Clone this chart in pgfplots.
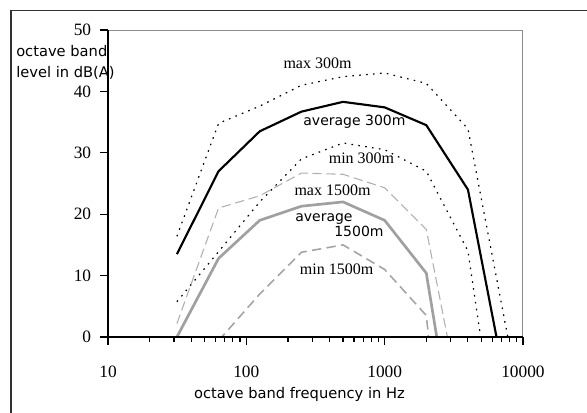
\documentclass[border=0pt]{standalone}
\usepackage{fontspec}
\setmainfont{Liberation Serif}
\newfontfamily\sans{DejaVu Sans}
\usepackage{pgfplots}
\pgfplotsset{compat=1.18}
\definecolor{frame}{RGB}{50,50,50}
\definecolor{border}{RGB}{140,140,140}
\definecolor{avgg}{RGB}{160,160,160}
\definecolor{maxg}{RGB}{175,175,175}
\definecolor{ming}{RGB}{165,165,165}
\begin{document}
\begin{tikzpicture}
\useasboundingbox (-81pt,-56.25pt) rectangle (359.25pt,252.75pt);
\begin{axis}[
  at={(0pt,0pt)}, anchor=south west,
  scale only axis, width=311.25pt, height=230.25pt,
  xmode=log, xmin=10, xmax=10000, ymin=0, ymax=50,
  axis line style={draw=none},
  xtick pos=left, ytick pos=left,
  xtick={10,100,1000,10000}, xticklabels={10,100,1000,10000},
  minor xtick={20,30,40,50,60,70,80,90,200,300,400,500,600,700,800,900,2000,3000,4000,5000,6000,7000,8000,9000},
  ytick={0,10,20,30,40,50}, yticklabels={0,10,20,30,40,50},
  tick align=outside, major tick length=6pt, minor tick length=3.5pt,
  tick style={draw=black, line width=0.8pt},
  ticklabel style={font=\fontsize{13}{15}\selectfont},
  xticklabel style={anchor=north, inner sep=0pt, yshift=-15.75pt},
  yticklabel style={anchor=east, inner sep=0pt, xshift=-6.5pt},
  clip=true,
]
% max 300m
\addplot[black, line width=0.9pt, dash pattern=on 1.2pt off 4pt] coordinates {
(31.5,16.4) (63,34.8) (125,37.6) (250,41) (500,42.4) (1000,43) (2000,41.3) (4000,33.9) (8000,-1.5)};
% min 300m
\addplot[black, line width=0.9pt, dash pattern=on 1.2pt off 4pt] coordinates {
(31.5,5.75) (63,13.9) (125,22) (250,29) (500,31.6) (1000,30.5) (2000,27) (4000,14) (8000,-32)};
% max 1500m
\addplot[maxg, line width=0.8pt, dash pattern=on 7pt off 3.5pt] coordinates {
(31.5,2.2) (63,21) (125,23) (250,26.7) (500,26.5) (1000,24.3) (2000,17.5) (4000,-17)};
% min 1500m
\addplot[ming, line width=1.2pt, dash pattern=on 7pt off 4pt] coordinates {
(63,-0.6) (125,7) (250,13.8) (500,15) (1000,11) (2000,3.5) (4000,-60)};
% average 1500m
\addplot[avgg, line width=2pt] coordinates {
(31.5,0) (63,12.8) (125,19) (250,21.3) (500,22) (1000,19) (2000,10.4) (4000,-31)};
% average 300m
\addplot[black, line width=1.6pt] coordinates {
(31.5,13.5) (63,27) (125,33.5) (250,36.7) (500,38.3) (1000,37.4) (2000,34.5) (4000,24) (8000,-11)};

\node[anchor=base, font=\fontsize{12}{14}\selectfont] at (axis cs:327,43.76) {max 300m};
\node[anchor=base, font=\sans\fontsize{10.5}{12}\selectfont] at (axis cs:605,34.4) {average 300m};
\node[anchor=base, font=\fontsize{12}{14}\selectfont] at (axis cs:680,28.3) {min 300m};
\node[anchor=base, font=\fontsize{12}{14}\selectfont] at (axis cs:420,23.0) {max 1500m};
\node[anchor=base, font=\sans\fontsize{10.5}{12}\selectfont] at (axis cs:364,18.8) {average};
\node[anchor=base, font=\sans\fontsize{10.5}{12}\selectfont] at (axis cs:652,16.3) {1500m};
\node[anchor=base, font=\fontsize{12}{14}\selectfont] at (axis cs:449,10.26) {min 1500m};
\end{axis}
\draw[border, line width=0.75pt] (0pt,230.25pt) -- (311.25pt,230.25pt) -- (311.25pt,0pt);
\draw[black, line width=0.8pt] (0pt,230.25pt) -- (0pt,0pt) -- (311.25pt,0pt);
\draw[frame, line width=1.1pt] (-72.75pt,-60pt) -- (-72.75pt,244.9pt) -- (365pt,244.9pt);
\node[anchor=base west, inner sep=0pt, font=\sans\fontsize{11}{13}\selectfont] at (-69pt,210.2pt) {octave band};
\node[anchor=base west, inner sep=0pt, font=\sans\fontsize{11}{13}\selectfont] at (-69pt,194.8pt) {level in dB(A)};
\node[anchor=base, inner sep=0pt, font=\sans\fontsize{11}{13}\selectfont] at (143.6pt,-46pt) {octave band frequency in Hz};
\end{tikzpicture}
\end{document}
